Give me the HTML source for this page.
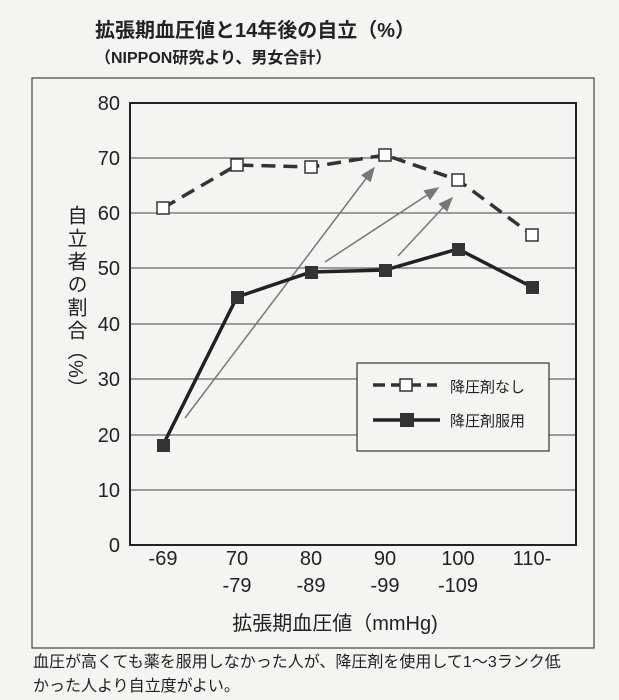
<!DOCTYPE html>
<html><head><meta charset="utf-8"><style>
body{margin:0;background:#f4f4f2;}
svg{display:block}
text{font-family:"Liberation Sans","Noto Sans CJK JP",sans-serif;fill:#222}
</style></head><body>
<svg width="619" height="700" viewBox="0 0 619 700">
<rect width="619" height="700" fill="#f4f4f2"/>
<text x="95" y="37" font-size="20" font-weight="bold">拡張期血圧値と14年後の自立（%）</text>
<text x="95" y="63" font-size="16" font-weight="bold">（NIPPON研究より、男女合計）</text>
<rect x="32" y="78" width="562" height="570" fill="none" stroke="#444" stroke-width="1.2"/>
<g stroke="#444" stroke-width="1">
<line x1="130" y1="158" x2="576" y2="158"/>
<line x1="130" y1="213" x2="576" y2="213"/>
<line x1="130" y1="268" x2="576" y2="268"/>
<line x1="130" y1="324" x2="576" y2="324"/>
<line x1="130" y1="379" x2="576" y2="379"/>
<line x1="130" y1="435" x2="576" y2="435"/>
<line x1="130" y1="490" x2="576" y2="490"/>
</g>
<rect x="130" y="103" width="446" height="442" fill="none" stroke="#222" stroke-width="2"/>
<g font-size="20" text-anchor="end" fill="#333">
<text x="120" y="110">80</text><text x="120" y="165">70</text><text x="120" y="220">60</text>
<text x="120" y="275">50</text><text x="120" y="331">40</text><text x="120" y="386">30</text>
<text x="120" y="442">20</text><text x="120" y="497">10</text><text x="120" y="552">0</text>
</g>
<g font-size="20" text-anchor="middle">
<text x="163" y="565">-69</text>
<text x="237" y="565">70</text><text x="237" y="592">-79</text>
<text x="311" y="565">80</text><text x="311" y="592">-89</text>
<text x="385" y="565">90</text><text x="385" y="592">-99</text>
<text x="458" y="565">100</text><text x="458" y="592">-109</text>
<text x="532" y="565">110-</text>
</g>
<text x="335" y="630" font-size="20" text-anchor="middle">拡張期血圧値（mmHg)</text>
<text x="75" y="205" font-size="20" style="writing-mode:vertical-rl;text-orientation:upright" letter-spacing="3">自立者の割合</text>
<text x="75" y="340" font-size="20" style="writing-mode:vertical-rl">（%）</text>
<defs><marker id="ah" markerWidth="10" markerHeight="8" refX="9" refY="4" orient="auto"><path d="M0,0 L10,4 L0,8 z" fill="#777"/></marker></defs>
<g stroke="#777" stroke-width="1.5" marker-end="url(#ah)">
<line x1="185" y1="418" x2="374" y2="168"/>
<line x1="325" y1="262" x2="438" y2="188"/>
<line x1="398" y1="256" x2="452" y2="198"/>
</g>
<polyline points="163,208 237,165 311,167 385,155 458,180 532,235" fill="none" stroke="#333" stroke-width="3.5" stroke-dasharray="14,8"/>
<polyline points="163,445 237,297 311,272 385,270 458,249 532,287" fill="none" stroke="#222" stroke-width="3.5"/>
<g fill="#fff" stroke="#333" stroke-width="1.5">
<rect x="157" y="202" width="12" height="12"/><rect x="231" y="159" width="12" height="12"/>
<rect x="305" y="161" width="12" height="12"/><rect x="379" y="149" width="12" height="12"/>
<rect x="452" y="174" width="12" height="12"/><rect x="526" y="229" width="12" height="12"/>
</g>
<g fill="#333">
<rect x="157" y="439" width="13" height="13"/><rect x="231" y="291" width="13" height="13"/>
<rect x="305" y="266" width="13" height="13"/><rect x="379" y="264" width="13" height="13"/>
<rect x="452" y="243" width="13" height="13"/><rect x="526" y="281" width="13" height="13"/>
</g>
<rect x="357" y="363" width="192" height="88" fill="#f4f4f2" stroke="#333" stroke-width="1.2"/>
<line x1="373" y1="385" x2="437" y2="385" stroke="#333" stroke-width="3.5" stroke-dasharray="12,6"/>
<rect x="400" y="379" width="12" height="12" fill="#fff" stroke="#333" stroke-width="1.5"/>
<line x1="373" y1="420" x2="440" y2="420" stroke="#222" stroke-width="3.5"/>
<rect x="400" y="413" width="14" height="14" fill="#333"/>
<text x="450" y="392" font-size="15">降圧剤なし</text>
<text x="450" y="426" font-size="15">降圧剤服用</text>
<text x="33" y="667" font-size="16">血圧が高くても薬を服用しなかった人が、降圧剤を使用して1〜3ランク低</text>
<text x="33" y="691" font-size="16">かった人より自立度がよい。</text>
</svg>
</body></html>
